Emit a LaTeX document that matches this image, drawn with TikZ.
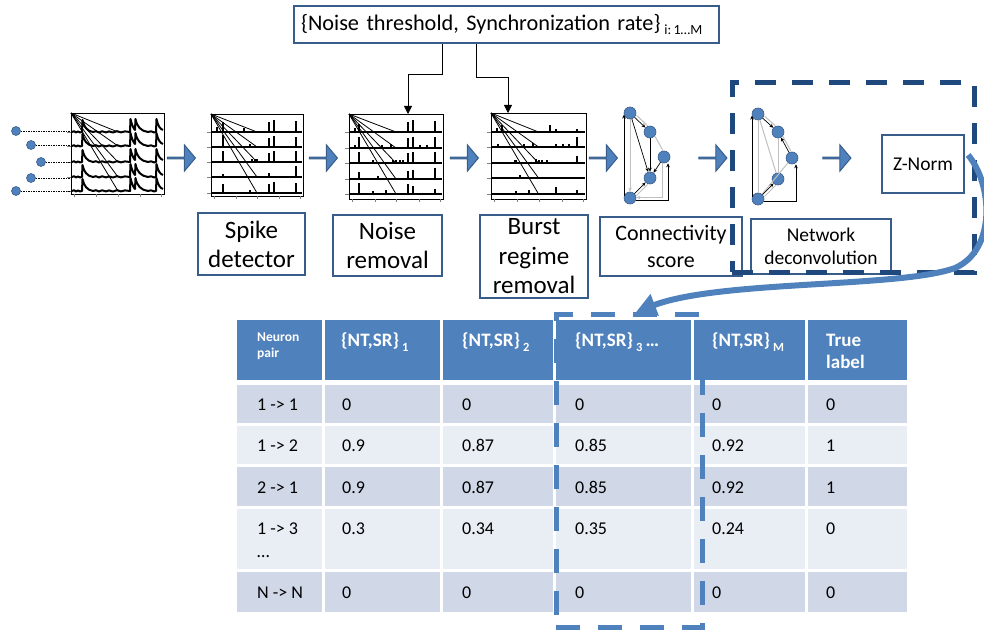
\documentclass[tikz,border=0pt]{standalone}
\usepackage{fontspec}
\setmainfont{Carlito}
\usetikzlibrary{arrows.meta,shapes.arrows,calc}
\definecolor{hdr}{HTML}{4F81BD}
\definecolor{rowA}{HTML}{D0D8E8}
\definecolor{rowB}{HTML}{E9EDF4}
\definecolor{boxline}{HTML}{385D8A}
\definecolor{navy}{HTML}{1F497D}
\definecolor{ltgray}{HTML}{BFBFBF}
\frenchspacing
\begin{document}
\begin{tikzpicture}[x=1pt,y=-1pt,
  lbl/.style={draw=boxline, line width=2.2pt, fill=white, align=center, inner sep=0pt},
  plotframe/.style={draw=black, line width=0.9pt, inner sep=0pt, anchor=north west},
  trace/.style={line width=2pt, line join=round},
  spk/.style={line width=1.4pt},
  basel/.style={line width=1.5pt},
  diag/.style={line width=0.8pt},
  tck/.style={line width=0.4pt, gray},
  barrow/.style={single arrow, draw=boxline, fill=hdr, line width=1pt, minimum height=28pt, minimum width=26pt, single arrow head extend=6.5pt, single arrow tip angle=100, inner sep=0pt},
  netnode/.style={circle, fill=hdr, draw=boxline, line width=0.6pt, minimum size=12pt, inner sep=0pt},
  dotnode/.style={circle, fill=hdr, draw=boxline, line width=0.6pt, minimum size=9pt, inner sep=0pt},
  bedge/.style={-{Stealth[length=4pt,width=3.5pt]}, line width=0.7pt, black},
  gline/.style={line width=1pt, ltgray},
  gedge/.style={-{Stealth[length=4pt,width=3.5pt]}, line width=1pt, ltgray},
  conn/.style={-{Triangle[length=8pt,width=8pt]}, line width=0.8pt},
  dotline/.style={line width=0.8pt, dash pattern=on 1.5pt off 1pt},
  hd/.style={text=white, font=\bfseries\fontsize{19}{21}\selectfont, inner sep=0pt, anchor=base west},
  bd/.style={font=\fontsize{18}{21}\selectfont, inner sep=0pt, anchor=base west}
]
\useasboundingbox (0,0) rectangle (984,631);

% ---------- parameter box ----------
\node[draw=boxline, line width=2pt, fill=white, font=\fontsize{22.3}{26}\selectfont, text width=411pt, inner xsep=7pt, inner ysep=0pt, minimum height=37pt, align=left, anchor=north west] (params) at (293,5)
  {\{Noise threshold, Synchronization rate\}\,{\fontsize{14}{14}\selectfont\raisebox{-5pt}{i:\,1…M}}};

% ---------- plot frames ----------
\node[plotframe, minimum width=93pt, minimum height=81pt] (p1) at (71,113) {};
\node[plotframe, minimum width=92pt, minimum height=82pt] (p2) at (211,114) {};
\node[plotframe, minimum width=94pt, minimum height=85pt] (p3) at (349,114) {};
\node[plotframe, minimum width=95pt, minimum height=86pt] (p4) at (491,113) {};

% plot 1: raw traces
\begin{scope}[shift={(p1.north west)}]
  \foreach \yb in {19,33,49,64,78}{
    \begin{scope}[shift={(0,\yb)}]
      \draw[trace] (1,0) -- (3,-0.8) -- (5,0.5) -- (7,-0.6) -- (9,0.4) -- (11,0) -- (11.5,-12) .. controls (13,-5) and (16,-1) .. (22,0) -- (25,-0.8) -- (28,0.5) -- (31,-0.7) -- (35,0.4) -- (38,-0.6) -- (42,0.5) -- (46,-0.8) -- (50,0.4) -- (54,-0.6) -- (59,0) -- (59.5,-13) .. controls (61,-6) and (63,-3) .. (64,-2) -- (64.5,-13) .. controls (66,-5) and (70,-1) .. (77,0) -- (80,-0.7) -- (83,0.4) -- (85,0) -- (85.5,-13) .. controls (87,-6) and (89,-3) .. (92,-2);
    \end{scope}
    \draw[diag] (0,0) -- (47,\yb);
    \draw[tck] (-4,\yb) -- (0,\yb);
  }
  \foreach \t in {3,25,47,69,90} \draw[tck] (\t,81) -- (\t,84);
\end{scope}

% plot 2: spikes
\begin{scope}[shift={(p2.north west)}]
  \foreach \yb/\sp in {18/{6/5,12/10,33/4,58/10,63/12,85/11}, 33/{12/12,39/3,58/9,63/11,85/10}, 48/{12/11,41/3,44/3,46/3,58/9,63/11,85/11}, 63/{12/3,58/4,85/11}, 79/{12/9,39/3,58/9,63/11,85/10}}{
    \draw[basel] (1,\yb) -- (91,\yb);
    \foreach \x/\h in \sp {\draw[spk] (\x,\yb) -- ++(0,-\h);}
    \draw[diag] (0,0) -- (46,\yb);
    \draw[tck] (-4,\yb) -- (0,\yb);
  }
  \foreach \t in {3,25,46,68,89} \draw[tck] (\t,82) -- (\t,85);
\end{scope}

% plot 3: noise removed
\begin{scope}[shift={(p3.north west)}]
  \foreach \yb/\sp in {18/{6/4,10/8,59/10,64/12,86/11}, 34/{6/3,10/11,33/3,42/4,59/10,64/11,71/3,78/3,86/11}, 49/{10/11,24/3,44/3,47/3,51/3,54/3,59/10,64/11,86/11}, 65/{10/7,29/3,59/8,64/9,86/11}, 80/{10/11,24/3,37/4,59/10,64/8,86/5}}{
    \draw[basel] (1,\yb) -- (93,\yb);
    \foreach \x/\h in \sp {\draw[spk] (\x,\yb) -- ++(0,-\h);}
    \draw[diag] (0,0) -- (47,\yb);
    \draw[tck] (-4,\yb) -- (0,\yb);
  }
  \foreach \t in {3,26,47,70,91} \draw[tck] (\t,85) -- (\t,88);
\end{scope}

% plot 4: burst removed
\begin{scope}[shift={(p4.north west)}]
  \foreach \yb/\sp in {19/{6/4,11/7,59/7,65/3,86/3}, 34/{7/3,33/3,42/4,65/3,72/3,78/3,86/10}, 50/{24/3,25/3,45/4,48/3,51/3,56/3,86/7}, 65/{29/3}, 81/{25/3,38/4,65/7,86/4}}{
    \draw[basel] (1,\yb) -- (94,\yb);
    \foreach \x/\h in \sp {\draw[spk] (\x,\yb) -- ++(0,-\h);}
    \draw[diag] (0,0) -- (47.5,\yb);
    \draw[tck] (-4,\yb) -- (0,\yb);
  }
  \foreach \t in {3,26,48,71,92} \draw[tck] (\t,86) -- (\t,89);
\end{scope}

% ---------- input neurons ----------
\node[dotnode] (d1) at (16,131) {};
\node[dotnode] (d2) at (31,145) {};
\node[dotnode] (d3) at (41,162) {};
\node[dotnode] (d4) at (31,178) {};
\node[dotnode] (d5) at (16,191) {};
\foreach \d in {d1,d2,d3,d4,d5} \draw[dotline] (\d) -- (\d -| p1.west);

% ---------- parameter connectors ----------
\draw[conn] ([xshift=149pt]params.south west) -- ++(0,30) -| ([xshift=59pt]p3.north west);
\draw[conn] ([xshift=183pt]params.south west) -- ++(0,33) -| ([xshift=17pt]p4.north west);

% ---------- block arrows ----------
\node[barrow] (a1) at (181,158) {};
\node[barrow] (a2) at (323,158) {};
\node[barrow] (a3) at (464,158) {};
\node[barrow] (a4) at (603,158) {};
\node[barrow] (a5) at (712.5,158) {};
\node[barrow] (a6) at (836.5,158) {};

% ---------- labels ----------
\node[lbl, minimum width=107pt, minimum height=62pt, font=\fontsize{25}{29}\selectfont] (sd) at (251.5,244) {Spike\\detector};
\node[lbl, minimum width=109pt, minimum height=61pt, font=\fontsize{25}{29}\selectfont] (nr) at (387.5,245.5) {Noise\\removal};
\node[lbl, minimum width=108pt, minimum height=83pt, font=\fontsize{25}{29.5}\selectfont] (br) at (534,256.5) {Burst\\regime\\removal};
\node[lbl, minimum width=142pt, minimum height=59pt, font=\fontsize{22}{27}\selectfont] (cs) at (671,246.5) {Connectivity\\score};
\node[lbl, minimum width=140pt, minimum height=55pt, font=\fontsize{19.5}{23}\selectfont] (nd) at (821,246.5) {Network\\deconvolution};
\node[lbl, minimum width=82pt, minimum height=58pt, font=\fontsize{19.5}{23}\selectfont] (zn) at (923,164) {Z-Norm};

% ---------- network 1 ----------
\node[netnode] (na) at (630,113) {};
\node[netnode] (nb) at (650,132) {};
\node[netnode] (nc) at (664,157) {};
\node[netnode] (ndd) at (650,178) {};
\node[netnode] (ne) at (630,198) {};
\draw[gline, transform canvas={shift={(2pt,2pt)}}] (na) -- (nb);
\draw[gline, transform canvas={shift={(2pt,1pt)}}] (nb) -- (nc);
\draw[gline, transform canvas={shift={(2pt,-2pt)}}] (ne) -- (ndd);
\draw[gedge] (na) -- (ne);
\draw[gedge] ([xshift=-2pt]nc.south) |- (ne.5);
\draw[bedge] (na) -- (nb);
\draw[bedge] (nc) -- (ndd);
\draw[bedge] (nb) -- (ndd);
\draw[bedge] (na) -- (ndd);
\draw[bedge] (ne) -- (ndd);
\draw[bedge] (ne.165) -- (na.195);
\draw[bedge] (ne.-20) -| ([xshift=4pt]nc.south);

% ---------- network 2 ----------
\node[netnode] (ma) at (758,114) {};
\node[netnode] (mb) at (778,132) {};
\node[netnode] (mc) at (792,158) {};
\node[netnode] (md) at (778,179) {};
\node[netnode] (me) at (758,199) {};
\draw[gline] (ma) -- (me);
\draw[gline] (ma) -- (md);
\draw[gline] (mb) -- (md);
\draw[gline] (mc) -- (me);
\draw[gline, transform canvas={shift={(2pt,2pt)}}] (ma) -- (mb);
\draw[gline, transform canvas={shift={(2pt,1pt)}}] (mc) -- (mb);
\draw[gline, transform canvas={shift={(2pt,-2pt)}}] (me) -- (md);
\draw[bedge] (me.165) -- (ma.195);
\draw[bedge] (ma) -- (mb);
\draw[bedge] (mc) -- (mb);
\draw[bedge] (me) -- (md);
\draw[bedge] (me.-20) -| ([xshift=4pt]mc.south);

% ---------- dashed group ----------
\node[draw=navy, line width=5pt, dash pattern=on 21pt off 16pt, minimum width=242pt, minimum height=189pt, inner sep=0pt] (grp) at (853,177.5) {};

% ---------- table ----------
\foreach \xa/\xb in {237/322,325/440,443/553,556/691,694/805,808/907}
  \fill[hdr] (\xa,320) rectangle (\xb,380);
\foreach \ya/\yb/\col in {385/423/rowA,426/464/rowB,467/506/rowA,509/569/rowB,572/612/rowA}
  \foreach \xa/\xb in {237/322,325/440,443/553,556/691,694/805,808/907}
    \fill[\col] (\xa,\ya) rectangle (\xb,\yb);

\node[hd, font=\bfseries\fontsize{13.5}{16}\selectfont] (h1a) at (257,341.5) {Neuron};
\node[hd, font=\bfseries\fontsize{13.5}{16}\selectfont] (h1b) at (257,357.5) {pair};
\node[hd] (h2) at (341,346) {\{NT,SR\}\,\raisebox{-5pt}{\fontsize{12.5}{12}\selectfont 1}};
\node[hd] (h3) at (462,346) {\{NT,SR\}\,\raisebox{-5pt}{\fontsize{12.5}{12}\selectfont 2}};
\node[hd] (h4) at (575,346) {\{NT,SR\}\,\raisebox{-5pt}{\fontsize{12.5}{12}\selectfont 3}\,…};
\node[hd] (h5) at (712,346) {\{NT,SR\}\,\raisebox{-5pt}{\fontsize{12.5}{12}\selectfont M}};
\node[hd] (h6a) at (826,346) {True};
\node[hd] (h6b) at (826,368) {label};

\foreach \r/\yb/\a/\b/\c/\d/\e/\f in {1/410.5/1 -> 1/0/0/0/0/0, 2/451.5/1 -> 2/0.9/0.87/0.85/0.92/1, 3/493/2 -> 1/0.9/0.87/0.85/0.92/1, 4/534.5/1 -> 3/0.3/0.34/0.35/0.24/0, 5/598.5/N -> N/0/0/0/0/0}{
  \node[bd] (t\r a) at (257,\yb) {\a};
  \node[bd] (t\r b) at (342,\yb) {\b};
  \node[bd] (t\r c) at (462,\yb) {\c};
  \node[bd] (t\r d) at (575,\yb) {\d};
  \node[bd] (t\r e) at (712,\yb) {\e};
  \node[bd] (t\r f) at (826,\yb) {\f};
}
\node[bd] (t4dots) at (257,557) {…};

% ---------- selection box on table ----------
\node[draw=hdr, line width=5pt, dash pattern=on 24pt off 18pt, minimum width=146pt, minimum height=313pt, inner sep=0pt] (sel) at (629,470.5) {};

% ---------- curved arrow ----------
\coordinate (cstart) at ($(zn.east)+(3,-9)$);
\coordinate (tip) at (636,312);
\draw[hdr, line width=6pt, -{Triangle[length=20pt,width=22pt]}] (cstart) .. controls (993,185) and (996,250) .. (955,268) .. controls (900,288) and (720,280) .. (tip);
\end{tikzpicture}
\end{document}
